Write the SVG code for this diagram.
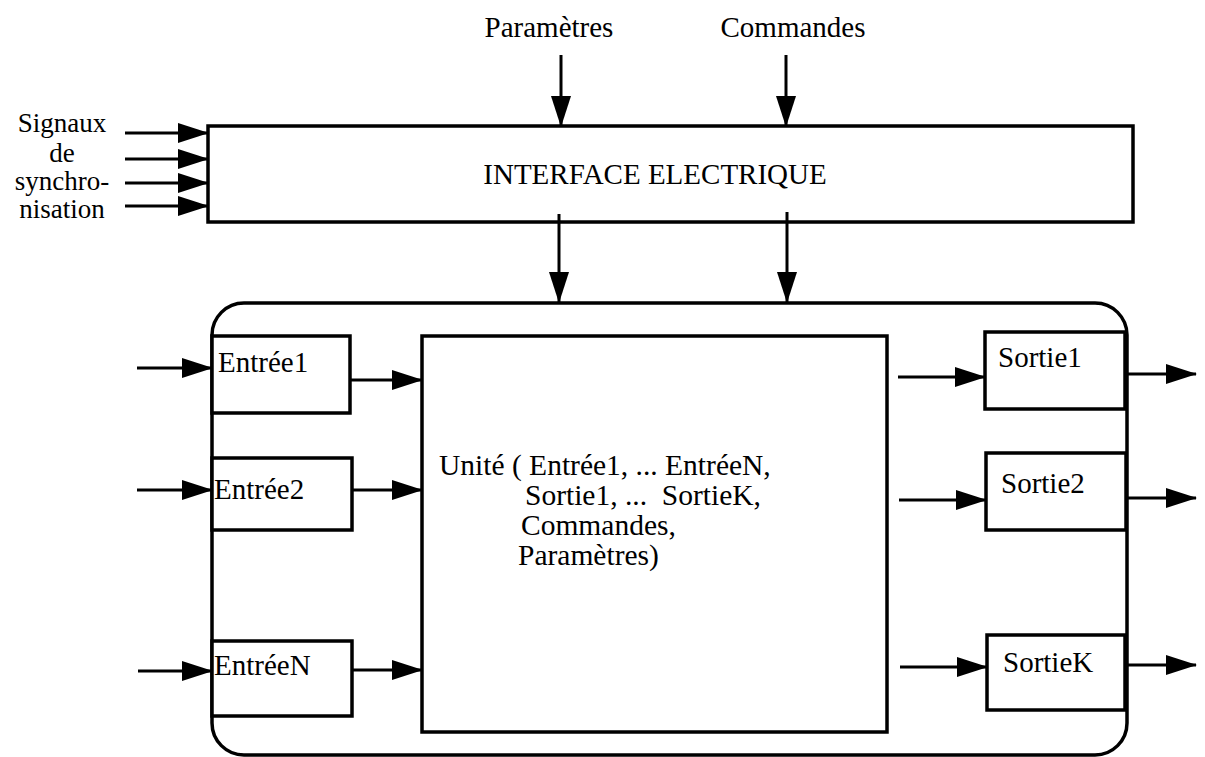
<svg xmlns="http://www.w3.org/2000/svg" width="1205" height="757" viewBox="0 0 1205 757">
<style>
.box{fill:#fff;stroke:#000;stroke-width:3.5}
.ln{stroke:#000;stroke-width:3;fill:none}
.t{font-family:"Liberation Serif","Times New Roman",serif;fill:#000}
.lbl{font-size:29px}
</style>
<defs>
<marker id="ah" markerUnits="userSpaceOnUse" markerWidth="34" markerHeight="22" refX="30" refY="10" orient="auto" overflow="visible">
<path d="M0,0 L31,10 L0,20 Z" fill="#000"/>
</marker>
</defs>
<rect width="1205" height="757" fill="#fff"/>

<g id="interface">
<rect class="box" x="208" y="126" width="925" height="96"/>
<text class="t" x="655" y="184" font-size="29" text-anchor="middle">INTERFACE ELECTRIQUE</text>
</g>

<g id="sync-label">
<text class="t" text-anchor="middle" font-size="27"><tspan x="62" y="132">Signaux</tspan><tspan x="62" y="162">de</tspan><tspan x="62" y="190">synchro-</tspan><tspan x="62" y="218">nisation</tspan></text>
</g>
<g id="param-label"><text class="t" x="549" y="37" font-size="29" text-anchor="middle">Paramètres</text></g>
<g id="cmd-label"><text class="t" x="793" y="37" font-size="29" text-anchor="middle">Commandes</text></g>

<g id="container">
<rect x="212" y="303" width="915" height="452" rx="32" ry="32" fill="none" stroke="#000" stroke-width="3.5"/>
</g>

<g id="unite">
<rect class="box" x="422" y="336" width="465" height="396"/>
<text class="t" font-size="29.5" xml:space="preserve"><tspan x="439" y="475">Unité ( Entrée1, ... EntréeN,</tspan><tspan x="525" y="505">Sortie1, ...  SortieK,</tspan><tspan x="521" y="535">Commandes,</tspan><tspan x="518" y="565">Paramètres)</tspan></text>
</g>

<g id="entree1"><rect class="box" x="212" y="336" width="138" height="77"/><text class="t lbl" x="218" y="372">Entrée1</text></g>
<g id="entree2"><rect class="box" x="212" y="458" width="140" height="72"/><text class="t lbl" x="214" y="499">Entrée2</text></g>
<g id="entreeN"><rect class="box" x="212" y="641" width="140" height="75"/><text class="t lbl" x="214" y="675">EntréeN</text></g>
<g id="sortie1"><rect class="box" x="985" y="332" width="140" height="77"/><text class="t lbl" x="998" y="367">Sortie1</text></g>
<g id="sortie2"><rect class="box" x="986" y="453" width="140" height="77"/><text class="t lbl" x="1001" y="493">Sortie2</text></g>
<g id="sortieK"><rect class="box" x="987" y="635" width="138" height="75"/><text class="t lbl" x="1003" y="672">SortieK</text></g>

<g id="connectors" class="ln" marker-end="url(#ah)">
<line x1="125" y1="133" x2="208" y2="133"/>
<line x1="125" y1="159" x2="208" y2="159"/>
<line x1="125" y1="183" x2="208" y2="183"/>
<line x1="125" y1="206" x2="208" y2="206"/>
<line x1="561" y1="55" x2="561" y2="126"/>
<line x1="786" y1="55" x2="786" y2="126"/>
<line x1="559" y1="214" x2="559" y2="302"/>
<line x1="787" y1="212" x2="787" y2="302"/>
<line x1="137" y1="368" x2="212" y2="368"/>
<line x1="350" y1="380" x2="422" y2="380"/>
<line x1="137" y1="490" x2="212" y2="490"/>
<line x1="352" y1="490" x2="422" y2="490"/>
<line x1="138" y1="671" x2="212" y2="671"/>
<line x1="352" y1="670" x2="422" y2="670"/>
<line x1="898" y1="377" x2="985" y2="377"/>
<line x1="1127" y1="374" x2="1196" y2="374"/>
<line x1="899" y1="500" x2="986" y2="500"/>
<line x1="1127" y1="498" x2="1196" y2="498"/>
<line x1="900" y1="667" x2="987" y2="667"/>
<line x1="1127" y1="665" x2="1196" y2="665"/>
</g>
</svg>
